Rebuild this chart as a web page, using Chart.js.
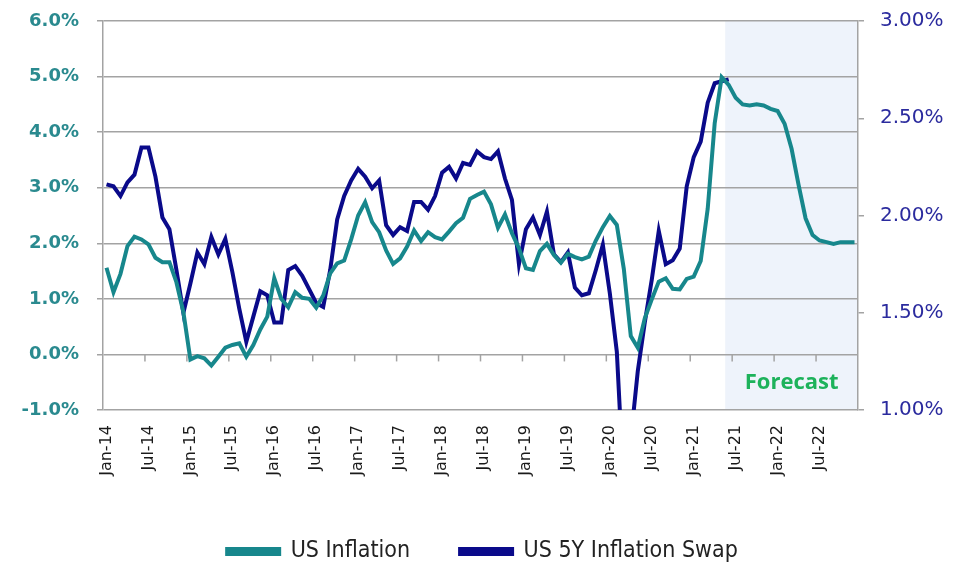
<!DOCTYPE html>
<html>
<head>
<meta charset="utf-8">
<script src="https://cdn.jsdelivr.net/npm/chart.js@4"></script>
<style>
  body { margin: 0; background: #fff; }
  #chart { display: block; }
</style>
</head>
<body>
<canvas id="chart" width="965" height="563"></canvas>
<script>
// categories
const monthNames = ['Jan', 'Feb', 'Mar', 'Apr', 'May', 'Jun', 'Jul', 'Aug', 'Sep', 'Oct', 'Nov', 'Dec'];
const years = ['14', '15', '16', '17', '18', '19', '20', '21', '22'];
const labels = [];
years.forEach(y => monthNames.forEach(m => labels.push(m + '-' + y)));

// US CPI yoy (left axis), forecast from Jun-21
const usInflation = [
    1.56, 1.12, 1.45, 1.95, 2.12, 2.07, 1.98, 1.74, 1.66, 1.66, 1.30, 0.76,
    -0.09, -0.03, -0.07, -0.20, -0.04, 0.12, 0.17, 0.20, -0.04, 0.17, 0.45, 0.68,
    1.37, 1.00, 0.85, 1.12, 1.02, 1.00, 0.84, 1.06, 1.46, 1.64, 1.69, 2.07,
    2.50, 2.74, 2.38, 2.20, 1.87, 1.63, 1.73, 1.94, 2.23, 2.04, 2.20, 2.11,
    2.07, 2.21, 2.36, 2.46, 2.80, 2.87, 2.93, 2.70, 2.28, 2.52, 2.18, 1.91,
    1.55, 1.52, 1.86, 1.99, 1.79, 1.65, 1.81, 1.75, 1.71, 1.76, 2.05, 2.29,
    2.49, 2.33, 1.54, 0.33, 0.12, 0.65, 0.99, 1.31, 1.37, 1.18, 1.17, 1.36,
    1.40, 1.68, 2.62, 4.16, 4.99, 4.85, 4.62, 4.50, 4.48, 4.50, 4.48, 4.42,
    4.38, 4.15, 3.70, 3.05, 2.45, 2.15, 2.05, 2.02, 1.99, 2.02, 2.02, 2.02
];

// US 5Y inflation swap (right axis), Jan-14 .. Jun-21
const us5ySwap = [
    2.16, 2.15, 2.10, 2.17, 2.21, 2.35, 2.35, 2.20, 1.99, 1.93, 1.72, 1.50,
    1.65, 1.81, 1.75, 1.89, 1.80, 1.88, 1.71, 1.52, 1.35, 1.48, 1.61, 1.59,
    1.45, 1.45, 1.72, 1.74, 1.69, 1.62, 1.55, 1.53, 1.72, 1.98, 2.10, 2.18,
    2.24, 2.20, 2.14, 2.18, 1.95, 1.90, 1.94, 1.92, 2.07, 2.07, 2.03, 2.10,
    2.22, 2.25, 2.19, 2.27, 2.26, 2.33, 2.30, 2.29, 2.33, 2.19, 2.08, 1.75,
    1.93, 1.99, 1.90, 2.02, 1.80, 1.76, 1.81, 1.63, 1.59, 1.60, 1.72, 1.85,
    1.60, 1.30, 0.60, 0.85, 1.20, 1.45, 1.67, 1.92, 1.75, 1.77, 1.83, 2.15,
    2.30, 2.38, 2.58, 2.68, 2.69, 2.70
];

const leftTicks = [-1, 0, 1, 2, 3, 4, 5, 6];
const rightTicks = [1.0, 1.5, 2.0, 2.5, 3.0];
const forecastStart = 'Jun-21';
const forecastLabel = 'Forecast';

const TEAL = '#17878C';
const NAVY = '#0A0A8A';
const GRID = '#A3A3A3';

function forecastEdge(x) {
    const i = labels.indexOf(forecastStart);
    return (x.getPixelForValue(i - 1) + x.getPixelForValue(i)) / 2;
}

const forecastPlugin = {
    id: 'forecast',
    beforeDraw(chart) {
        const { ctx, chartArea, scales } = chart;
        const start = forecastEdge(scales.x);
        ctx.save();
        ctx.fillStyle = '#EEF3FB';
        ctx.fillRect(start, chartArea.top, chartArea.right - start, chartArea.bottom - chartArea.top);
        ctx.restore();
    },
    beforeDatasetsDraw(chart) {
        // category tick marks hanging off the 0% line
        const { ctx, scales } = chart;
        const x = scales.x;
        const y0 = scales.y.getPixelForValue(0);
        ctx.save();
        ctx.strokeStyle = GRID;
        ctx.lineWidth = 1.5;
        for (let i = 6; i < labels.length; i += 6) {
            const px = (x.getPixelForValue(i - 1) + x.getPixelForValue(i)) / 2;
            ctx.beginPath();
            ctx.moveTo(px, y0);
            ctx.lineTo(px, y0 + 7);
            ctx.stroke();
        }
        ctx.restore();
    },
    afterDraw(chart) {
        const { ctx, chartArea, scales } = chart;
        const start = forecastEdge(scales.x);
        ctx.save();
        ctx.fillStyle = '#1DB25B';
        ctx.font = 'bold 22px "Open Sans"';
        ctx.textAlign = 'center';
        ctx.textBaseline = 'middle';
        ctx.fillText(forecastLabel, (start + chartArea.right) / 2, scales.y.getPixelForValue(-0.5) + 1);
        ctx.restore();
    }
};

new Chart(document.getElementById('chart'), {
    type: 'line',
    data: {
        labels: labels,
        datasets: [{
            label: 'US Inflation',
            data: usInflation,
            yAxisID: 'y',
            borderColor: TEAL,
            backgroundColor: TEAL,
            borderWidth: 4,
            pointRadius: 0,
            tension: 0
        }, {
            label: 'US 5Y Inflation Swap',
            data: us5ySwap,
            yAxisID: 'y1',
            borderColor: NAVY,
            backgroundColor: NAVY,
            borderWidth: 4,
            pointRadius: 0,
            tension: 0
        }]
    },
    options: {
        responsive: false,
        animation: false,
        layout: { padding: { top: 21, left: 0, right: 0, bottom: -10 } },
        plugins: {
            tooltip: { enabled: false },
            legend: {
                position: 'bottom',
                labels: {
                    boxWidth: 52,
                    boxHeight: 5,
                    padding: 50,
                    color: '#222',
                    font: { family: 'DejaVu Sans Condensed', size: 23 }
                }
            }
        },
        scales: {
            x: {
                offset: true,
                grid: { display: false },
                border: { display: false },
                ticks: {
                    autoSkip: false,
                    minRotation: 90,
                    maxRotation: 90,
                    padding: 7,
                    color: '#1a1a1a',
                    font: { family: 'DejaVu Sans', size: 16 },
                    callback: (v, idx) => (idx % 6 === 0 ? labels[idx] : '')
                },
                afterFit: s => { s.height = 80; }
            },
            y: {
                position: 'left',
                min: -1,
                max: 6,
                afterBuildTicks: s => { s.ticks = leftTicks.map(v => ({ value: v })); },
                grid: { color: GRID, lineWidth: 1.5, tickLength: 6 },
                border: { color: GRID, width: 1.5 },
                ticks: {
                    padding: 18,
                    color: '#2A8A8F',
                    font: { family: 'DejaVu Sans', size: 18, weight: 'bold' },
                    callback: v => v.toFixed(1) + '%'
                },
                afterFit: s => { s.width = 103; s.paddingTop = 0; s.paddingBottom = 0; }
            },
            y1: {
                position: 'right',
                min: 1,
                max: 3,
                afterBuildTicks: s => { s.ticks = rightTicks.map(v => ({ value: v })); },
                grid: { drawOnChartArea: false, color: GRID, lineWidth: 1.5, tickLength: 6 },
                border: { color: GRID, width: 1.5 },
                ticks: {
                    padding: 16,
                    color: '#2B2B9E',
                    font: { family: 'DejaVu Sans', size: 20 },
                    callback: v => v.toFixed(2) + '%'
                },
                afterFit: s => { s.width = 107; s.paddingTop = 0; s.paddingBottom = 0; }
            }
        }
    },
    plugins: [forecastPlugin]
});
</script>
</body>
</html>
